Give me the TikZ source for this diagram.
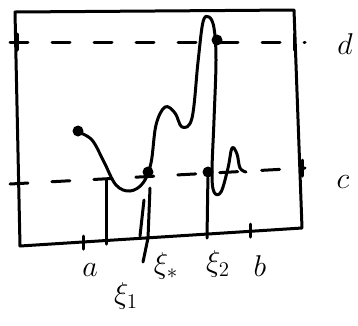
\documentclass[tikz,border=0pt]{standalone}
\begin{document}
\begin{tikzpicture}[x=1pt,y=-1pt,
  ink/.style={line width=3pt,line cap=round,line join=round},
  dashline/.style={ink,dash pattern=on 18pt off 24pt},
  lbl/.style={font=\huge,inner sep=0pt,scale=1.45},
  dot/.style={fill=black,circle,inner sep=0pt,minimum size=11pt}]
\useasboundingbox (0,0) rectangle (358,325);
% box
\coordinate (tl) at (15,12);
\coordinate (tr) at (294,10);
\coordinate (br) at (302,228);
\coordinate (bl) at (20,246);
\draw[ink] (tl) -- (tr) -- (br) -- (bl) -- cycle;
% dashed levels
\coordinate (d1) at (10,42); \coordinate (d2) at (305,42);
\coordinate (c1) at (10,184); \coordinate (c2) at (305,168);
\draw[dashline] (d1) -- (d2);
\draw[dashline] (c1) -- (c2);
% ticks
\draw[ink] (17,34) -- (17,50);
\draw[ink] (294,34) -- (294,50);
\draw[ink] (302,160) -- (302,176);
\draw[ink] (83,236) -- (83,249);
\draw[ink] (250,224) -- (250,237);
% curve
\draw[ink] plot[smooth,tension=0.6] coordinates {
 (78,132) (92,140) (104,162) (116,185) (130,191) (143,183) (151,163)
 (156,125) (165,107) (175,113) (182,127) (192,118) (198,62) (203,22)
 (209,17) (214,28) (216,60) (214,120) (212,172) (214,192) (221,192)
 (228,168) (232,148) (237,154) (240,168) (246,172)};
\node[dot] (p0) at (78,131) {};
\node[dot] (p1) at (148,172) {};
\node[dot] (p2) at (217,40) {};
\node[dot] (p3) at (208,172) {};
% verticals
\draw[ink] (106,180) -- (106,244);
\draw[ink] (p1) ++(2,16) -- (148,238) -- (143,262);
\draw[ink] (144,200) -- (140,236);
\draw[ink] (p3) -- (207,238);
% labels
\node[lbl] (ld) at (345,44) {$d$};
\node[lbl] (lc) at (343,182) {$c$};
\node[lbl] (la) at (90,270) {$a$};
\node[lbl] (lx1) at (126,296) {$\xi_1$};
\node[lbl] (lxs) at (166,266) {$\xi_{\ast}$};
\node[lbl] (lx2) at (218,264) {$\xi_2$};
\node[lbl] (lb) at (260,266) {$b$};
\end{tikzpicture}
\end{document}
